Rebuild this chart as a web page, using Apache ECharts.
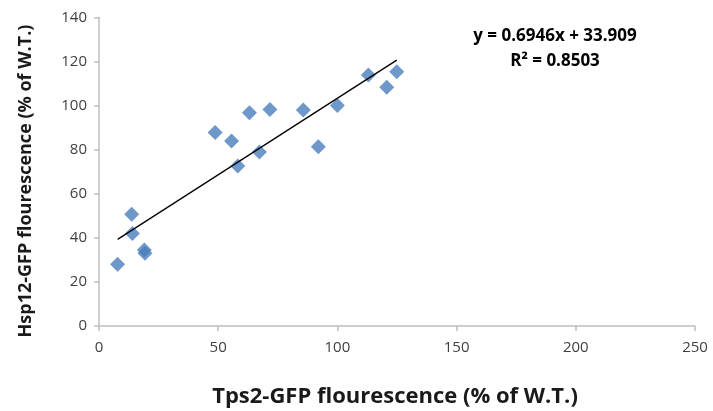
<!DOCTYPE html>
<html>
<head>
<meta charset="utf-8">
<script src="https://cdn.jsdelivr.net/npm/echarts@6/dist/echarts.min.js"></script>
<style>
  html, body { margin: 0; padding: 0; background: #fff; }
  #chart { width: 713px; height: 411px; }
</style>
</head>
<body>
<div id="chart"></div>
<script>
// Tps2-GFP (x) vs Hsp12-GFP (y), % of W.T.
var tps2 = [7.8, 13.7, 14.0, 19.0, 19.3, 48.7, 55.6, 58.2, 63.1, 67.3, 71.7, 85.7, 92.0, 100.0, 113.0, 120.7, 124.9];
var hsp12 = [28.0, 50.7, 42.0, 34.5, 33.0, 87.8, 83.9, 72.6, 96.8, 79.0, 98.3, 98.0, 81.4, 100.1, 113.9, 108.3, 115.4];

// linear trendline shown on the chart
var slope = 0.6946;
var intercept = 33.909;
var trendX = [7.8, 124.9];

var xTicks = [0, 50, 100, 150, 200, 250];
var yTicks = [0, 20, 40, 60, 80, 100, 120, 140];

var points = tps2.map(function (x, i) { return [x, hsp12[i]]; });
var trend = trendX.map(function (x) { return [x, slope * x + intercept]; });

var chart = echarts.init(document.getElementById('chart'));
var font = '"Open Sans", "Liberation Sans", sans-serif';

chart.setOption({
    animation: false,
    grid: { left: 99, right: 18, top: 17.5, bottom: 85 },
    xAxis: {
        type: 'value',
        min: xTicks[0], max: xTicks[xTicks.length - 1], interval: 50,
        axisLine: { lineStyle: { color: '#bfbfbf', width: 1.5 } },
        axisTick: { show: true, length: 5, lineStyle: { color: '#bfbfbf', width: 1.5 } },
        axisLabel: { fontFamily: font, fontSize: 15, color: '#404040', margin: 14 },
        splitLine: { show: false }
    },
    yAxis: {
        type: 'value',
        min: yTicks[0], max: yTicks[yTicks.length - 1], interval: 20,
        axisLine: { show: true, lineStyle: { color: '#bfbfbf', width: 1.5 } },
        axisTick: { show: true, length: 5, lineStyle: { color: '#bfbfbf', width: 1.5 } },
        axisLabel: { fontFamily: font, fontSize: 15, color: '#404040', margin: 12 },
        splitLine: { show: false }
    },
    series: [
        {
            type: 'scatter',
            data: points,
            symbol: 'diamond',
            symbolSize: [15, 15],
            itemStyle: { color: '#4a7ebb' },
            z: 2
        },
        {
            type: 'line',
            data: trend,
            symbol: 'none',
            lineStyle: { color: '#000', width: 1.3 },
            z: 3
        }
    ],
    graphic: [
        {
            // equation + R² label, two lines centred at x=555
            type: 'text', x: 555, y: 49,
            style: {
                text: 'y = 0.6946x + 33.909\nR² = 0.8503',
                align: 'center', verticalAlign: 'middle',
                fontFamily: font, fontWeight: 'bold', fontSize: 17, lineHeight: 25,
                fill: '#000'
            }
        },
        {
            type: 'text', x: 395, y: 397,
            style: {
                text: 'Tps2-GFP flourescence (% of W.T.)',
                align: 'center', verticalAlign: 'middle',
                fontFamily: font, fontWeight: 'bold', fontSize: 22, fill: '#1a1a1a'
            }
        },
        {
            type: 'text', x: 26, y: 181, rotation: Math.PI / 2,
            style: {
                text: 'Hsp12-GFP flourescence (% of W.T.)',
                align: 'center', verticalAlign: 'middle',
                fontFamily: font, fontWeight: 'bold', fontSize: 18, fill: '#1a1a1a'
            }
        }
    ]
});
</script>
</body>
</html>
